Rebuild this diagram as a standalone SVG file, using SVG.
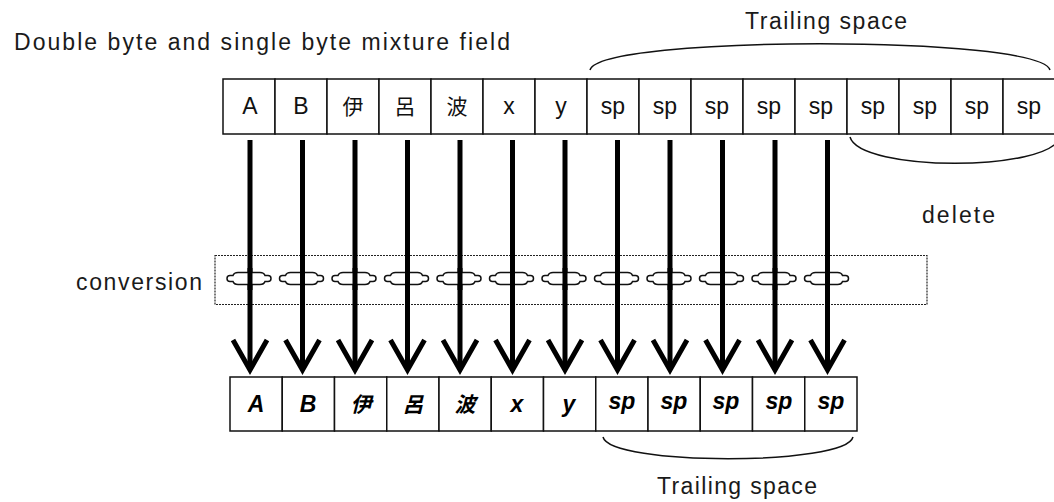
<svg xmlns="http://www.w3.org/2000/svg" width="1054" height="502" viewBox="0 0 1054 502">
<style>
.lbl{font-family:"Liberation Sans","Noto Sans CJK JP",sans-serif;font-size:23px;fill:#1a1a1a}
.cell{fill:#fff;stroke:#111;stroke-width:1.5}
.ct{font-family:"Liberation Sans","Noto Sans CJK JP",sans-serif;font-size:23px;fill:#111;text-anchor:middle}
.cb{font-family:"Liberation Sans","Noto Sans CJK JP",sans-serif;font-size:23px;font-weight:bold;font-style:italic;fill:#000;text-anchor:middle}
.cj{font-size:21px}
.brace{fill:none;stroke:#111;stroke-width:1.5}
.arrow{fill:none;stroke:#000;stroke-width:5;marker-end:url(#head)}
.ring{fill:#fff;stroke:#111;stroke-width:1.5}
.shaft{stroke:#000;stroke-width:5}
</style>
<defs>
<marker id="head" markerUnits="userSpaceOnUse" viewBox="-6 -22 42 44" refX="30" refY="0" markerWidth="42" markerHeight="44" orient="auto" overflow="visible">
<path d="M0,-17 L30,0 L0,17" fill="none" stroke="#000" stroke-width="5" stroke-linejoin="miter"/>
</marker>
<path id="ring" d="M-11,-6 h22 q4,0 5,3 h3 q3,0 3,3 q0,3 -3,3 h-3 q-1,3 -5,3 h-22 q-4,0 -5,-3 h-3 q-3,0 -3,-3 q0,-3 3,-3 h3 q1,-3 5,-3 z"/>
</defs>
<rect width="1054" height="502" fill="#fff"/>

<g id="title">
<text class="lbl" x="14" y="50" font-size="24" textLength="496" lengthAdjust="spacing">Double byte and single byte mixture field</text>
</g>

<g id="trailing-top">
<path class="brace" d="M590,70 C600,35 1040,35 1050,70"/>
<text class="lbl" x="745" y="29" textLength="162" lengthAdjust="spacing">Trailing space</text>
</g>

<g id="delete">
<path class="brace" d="M850,137 C860,172 1050,172 1060,137"/>
<text class="lbl" x="922" y="223" font-size="21" textLength="73" lengthAdjust="spacing">delete</text>
</g>

<g id="conversion">
<rect x="215" y="255.5" width="712" height="49" fill="none" stroke="#222" stroke-width="1.2" stroke-dasharray="2 1"/>
<text class="lbl" x="76" y="290" font-size="23" textLength="126" lengthAdjust="spacing">conversion</text>
</g>

<g id="source-field">
<rect class="cell" x="223" y="79" width="52" height="55"/>
<rect class="cell" x="275" y="79" width="52" height="55"/>
<rect class="cell" x="327" y="79" width="52" height="55"/>
<rect class="cell" x="379" y="79" width="52" height="55"/>
<rect class="cell" x="431" y="79" width="52" height="55"/>
<rect class="cell" x="483" y="79" width="52" height="55"/>
<rect class="cell" x="535" y="79" width="52" height="55"/>
<rect class="cell" x="587" y="79" width="52" height="55"/>
<rect class="cell" x="639" y="79" width="52" height="55"/>
<rect class="cell" x="691" y="79" width="52" height="55"/>
<rect class="cell" x="743" y="79" width="52" height="55"/>
<rect class="cell" x="795" y="79" width="52" height="55"/>
<rect class="cell" x="847" y="79" width="52" height="55"/>
<rect class="cell" x="899" y="79" width="52" height="55"/>
<rect class="cell" x="951" y="79" width="52" height="55"/>
<rect class="cell" x="1003" y="79" width="52" height="55"/>
<text class="ct" x="250" y="114">A</text>
<text class="ct" x="301" y="114">B</text>
<text class="ct cj" x="353" y="114">伊</text>
<text class="ct cj" x="405" y="114">呂</text>
<text class="ct cj" x="457" y="114">波</text>
<text class="ct" x="509" y="114">x</text>
<text class="ct" x="561" y="114">y</text>
<text class="ct" x="613" y="114">sp</text>
<text class="ct" x="665" y="114">sp</text>
<text class="ct" x="717" y="114">sp</text>
<text class="ct" x="769" y="114">sp</text>
<text class="ct" x="821" y="114">sp</text>
<text class="ct" x="873" y="114">sp</text>
<text class="ct" x="925" y="114">sp</text>
<text class="ct" x="977" y="114">sp</text>
<text class="ct" x="1029" y="114">sp</text>
</g>

<g id="connectors">
<line class="arrow" x1="250" y1="140" x2="250" y2="370"/>
<line class="arrow" x1="302.5" y1="140" x2="302.5" y2="370"/>
<line class="arrow" x1="355" y1="140" x2="355" y2="370"/>
<line class="arrow" x1="407.5" y1="140" x2="407.5" y2="370"/>
<line class="arrow" x1="460" y1="140" x2="460" y2="370"/>
<line class="arrow" x1="512.5" y1="140" x2="512.5" y2="370"/>
<line class="arrow" x1="565" y1="140" x2="565" y2="370"/>
<line class="arrow" x1="617.5" y1="140" x2="617.5" y2="370"/>
<line class="arrow" x1="670" y1="140" x2="670" y2="370"/>
<line class="arrow" x1="722.5" y1="140" x2="722.5" y2="370"/>
<line class="arrow" x1="775" y1="140" x2="775" y2="370"/>
<line class="arrow" x1="827.5" y1="140" x2="827.5" y2="370"/>
</g>

<g id="conversion-rings">
<use href="#ring" class="ring" x="249" y="278.5"/>
<use href="#ring" class="ring" x="301.5" y="278.5"/>
<use href="#ring" class="ring" x="354" y="278.5"/>
<use href="#ring" class="ring" x="406.5" y="278.5"/>
<use href="#ring" class="ring" x="459" y="278.5"/>
<use href="#ring" class="ring" x="511.5" y="278.5"/>
<use href="#ring" class="ring" x="564" y="278.5"/>
<use href="#ring" class="ring" x="616.5" y="278.5"/>
<use href="#ring" class="ring" x="669" y="278.5"/>
<use href="#ring" class="ring" x="721.5" y="278.5"/>
<use href="#ring" class="ring" x="774" y="278.5"/>
<use href="#ring" class="ring" x="826.5" y="278.5"/>
<line class="shaft" x1="250" y1="268" x2="250" y2="290"/>
<line class="shaft" x1="302.5" y1="268" x2="302.5" y2="290"/>
<line class="shaft" x1="355" y1="268" x2="355" y2="290"/>
<line class="shaft" x1="407.5" y1="268" x2="407.5" y2="290"/>
<line class="shaft" x1="460" y1="268" x2="460" y2="290"/>
<line class="shaft" x1="512.5" y1="268" x2="512.5" y2="290"/>
<line class="shaft" x1="565" y1="268" x2="565" y2="290"/>
<line class="shaft" x1="617.5" y1="268" x2="617.5" y2="290"/>
<line class="shaft" x1="670" y1="268" x2="670" y2="290"/>
<line class="shaft" x1="722.5" y1="268" x2="722.5" y2="290"/>
<line class="shaft" x1="775" y1="268" x2="775" y2="290"/>
<line class="shaft" x1="827.5" y1="268" x2="827.5" y2="290"/>
</g>

<g id="result-field">
<rect class="cell" x="230" y="377" width="52.25" height="54"/>
<rect class="cell" x="282.25" y="377" width="52.25" height="54"/>
<rect class="cell" x="334.5" y="377" width="52.25" height="54"/>
<rect class="cell" x="386.75" y="377" width="52.25" height="54"/>
<rect class="cell" x="439" y="377" width="52.25" height="54"/>
<rect class="cell" x="491.25" y="377" width="52.25" height="54"/>
<rect class="cell" x="543.5" y="377" width="52.25" height="54"/>
<rect class="cell" x="595.75" y="377" width="52.25" height="54"/>
<rect class="cell" x="648" y="377" width="52.25" height="54"/>
<rect class="cell" x="700.25" y="377" width="52.25" height="54"/>
<rect class="cell" x="752.5" y="377" width="52.25" height="54"/>
<rect class="cell" x="804.75" y="377" width="52.25" height="54"/>
<text class="cb" x="256" y="412">A</text>
<text class="cb" x="308" y="412">B</text>
<text class="cb cj" x="361" y="412">伊</text>
<text class="cb cj" x="413" y="412">呂</text>
<text class="cb cj" x="465" y="412">波</text>
<text class="cb" x="517" y="412">x</text>
<text class="cb" x="569" y="412">y</text>
<text class="cb" x="622" y="409">sp</text>
<text class="cb" x="674" y="409">sp</text>
<text class="cb" x="726" y="409">sp</text>
<text class="cb" x="779" y="409">sp</text>
<text class="cb" x="831" y="409">sp</text>
</g>

<g id="trailing-bottom">
<path class="brace" d="M603,437 C610,466 846,466 853,437"/>
<text class="lbl" x="657" y="494" textLength="160" lengthAdjust="spacing">Trailing space</text>
</g>
</svg>
